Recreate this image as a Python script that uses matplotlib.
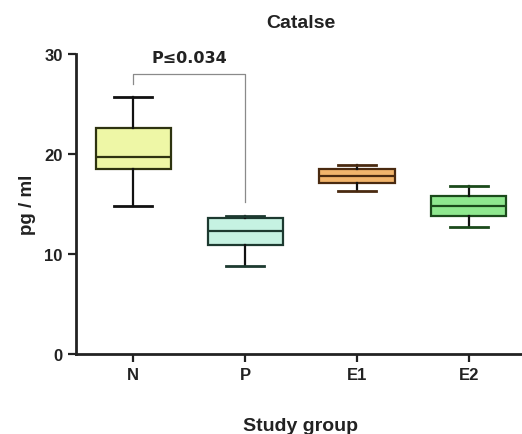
import matplotlib.pyplot as plt

plt.rcParams['font.family'] = ['Liberation Sans', 'DejaVu Sans']
plt.rcParams['font.weight'] = 'bold'

groups = ["N", "P", "E1", "E2"]
whis_lo = [14.8, 8.8, 16.3, 12.7]
q1 = [18.5, 10.9, 17.1, 13.8]
medians = [19.7, 12.3, 17.8, 14.8]
q3 = [22.6, 13.6, 18.5, 15.8]
whis_hi = [25.7, 13.8, 18.9, 16.8]
fills = ["#eef7a6", "#c6f2e2", "#f2b56c", "#8fe88f"]
edges = ["#2e3310", "#1d3a30", "#4a2a10", "#1b4a1b"]

p_text = "P\u22640.034"

fig = plt.figure(figsize=(5.22, 4.35), dpi=100)
ax = fig.add_axes([0.1456, 0.184, 0.86, 0.69])

stats = []
for i in range(len(groups)):
    stats.append({"label": groups[i], "whislo": whis_lo[i], "q1": q1[i], "med": medians[i],
                  "q3": q3[i], "whishi": whis_hi[i], "fliers": []})

bp = ax.bxp(stats, positions=range(1, 5), widths=0.67, patch_artist=True,
            showfliers=False)
for i in range(len(groups)):
    bp["boxes"][i].set_facecolor(fills[i])
    bp["boxes"][i].set_edgecolor(edges[i])
    bp["boxes"][i].set_linewidth(1.6)
    bp["medians"][i].set_color(edges[i])
    bp["medians"][i].set_linewidth(1.6)
    for k in (2 * i, 2 * i + 1):
        bp["whiskers"][k].set_color("#111111")
        bp["whiskers"][k].set_linewidth(1.6)
        bp["caps"][k].set_color(edges[i] if i > 0 else "#111111")
        bp["caps"][k].set_linewidth(2.0)

ax.set_xlim(0.49, 4.5)
ax.set_ylim(0, 30)
ax.set_yticks([0, 10, 20, 30])
ax.set_xticks(range(1, 5))
ax.set_xticklabels(groups)

# significance bracket
ax.plot([1, 1, 2, 2], [27.0, 28.0, 28.0, 15.2], color="#8a8a8a", lw=0.9, clip_on=False)
ax.text(1.5, 29.6, p_text, ha="center", va="center", fontsize=11.5, fontweight="bold",
        color="#222222", family=['DejaVu Sans'])

for s in ["top", "right"]:
    ax.spines[s].set_visible(False)
for s in ["left", "bottom"]:
    ax.spines[s].set_linewidth(2.0)
    ax.spines[s].set_color("#222222")
ax.tick_params(axis="both", direction="out", length=5.5, width=1.6, colors="#222222",
               labelsize=12, pad=4)

ax.set_title("Catalse", fontsize=14, fontweight="bold", pad=19, color="#222222")
ax.set_ylabel("pg / ml", fontsize=13.5, fontweight="bold", labelpad=6, color="#222222")
ax.set_xlabel("Study group", fontsize=14, fontweight="bold", labelpad=25, color="#222222")

fig.savefig("out.png", dpi=100)
